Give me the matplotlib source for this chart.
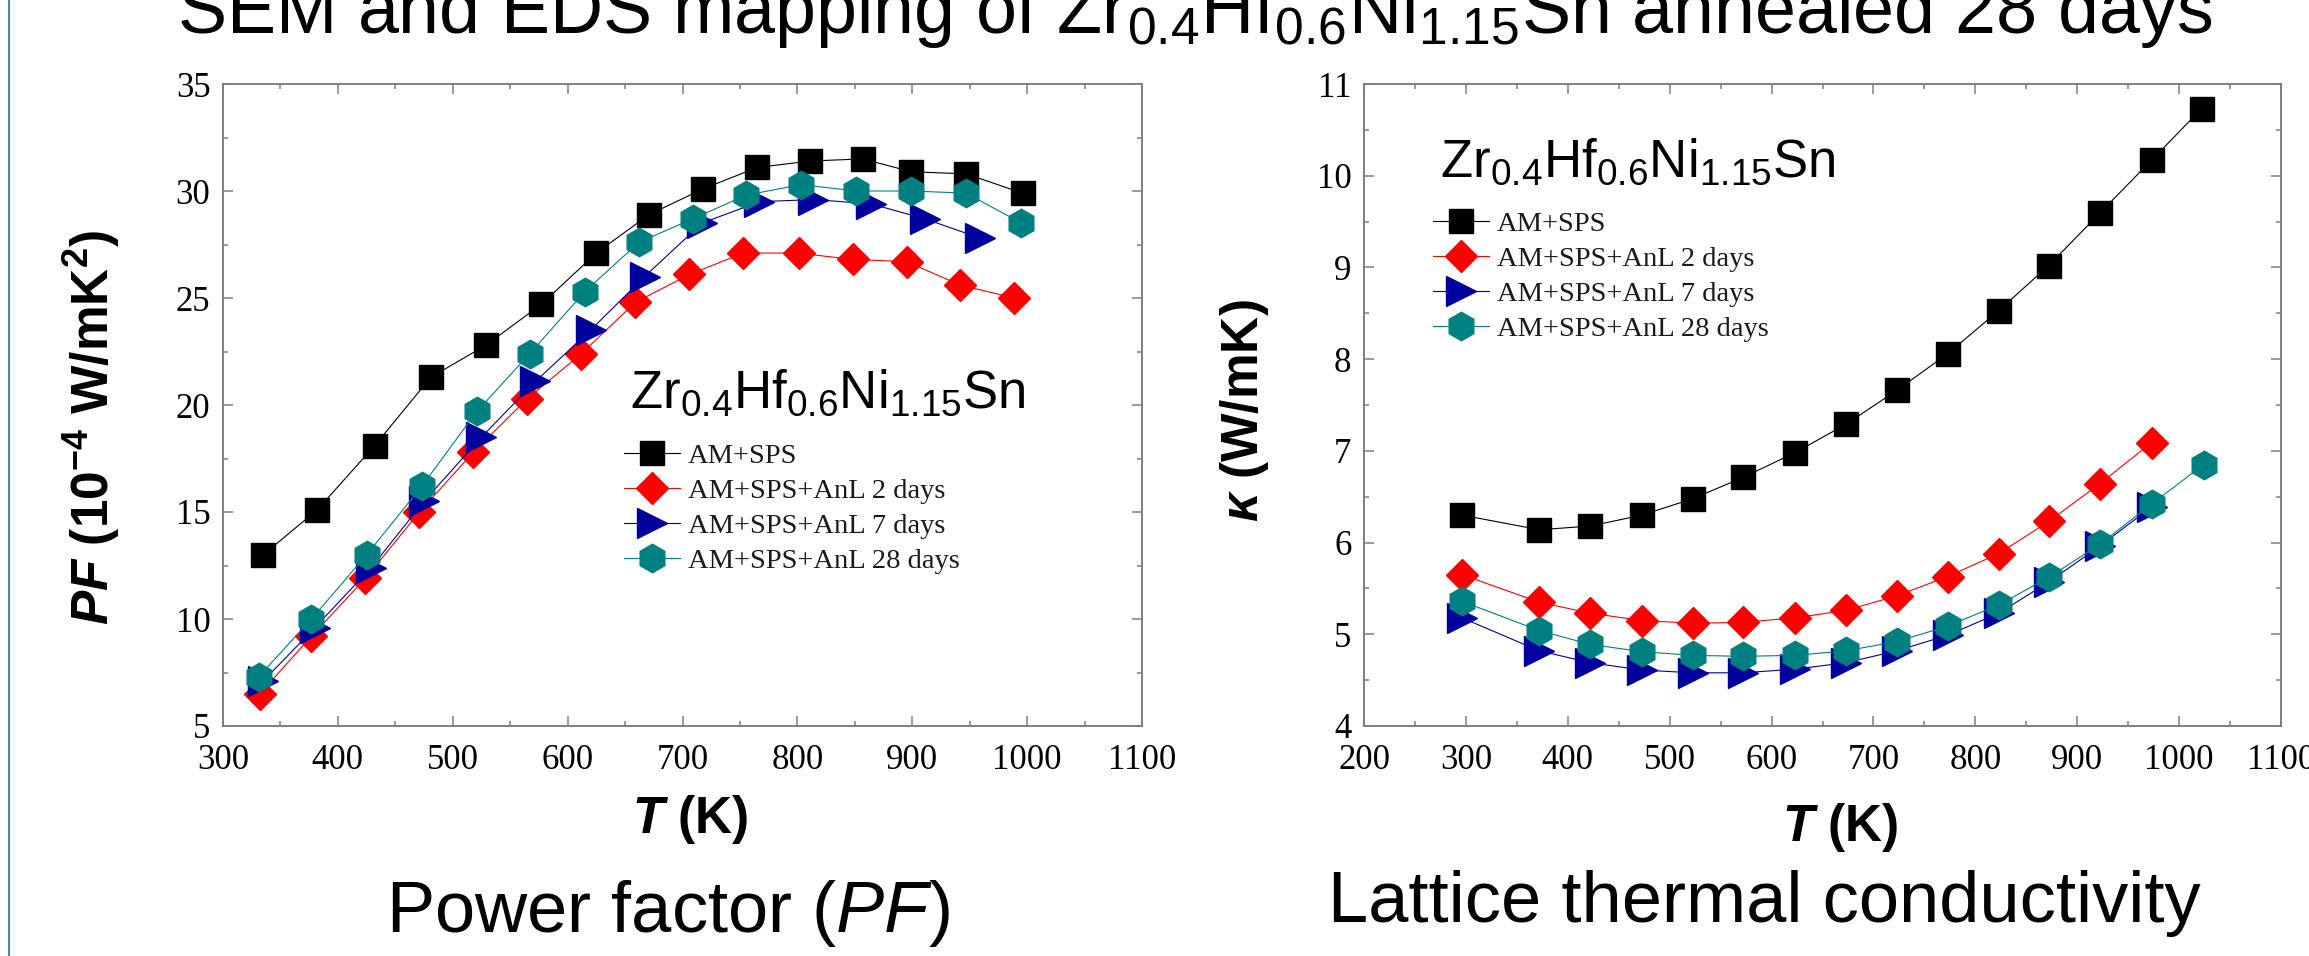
import matplotlib
matplotlib.use("Agg")
import matplotlib.pyplot as plt
from matplotlib.ticker import MultipleLocator

# -----------------------------
# Data
# -----------------------------
series_labels = ["AM+SPS", "AM+SPS+AnL 2 days", "AM+SPS+AnL 7 days", "AM+SPS+AnL 28 days"]

# Power factor (10^-4 W/mK^2) vs T (K)
pf_T_black = [335, 382, 432, 481, 529, 577, 625, 671, 718, 765, 811, 857, 899, 947, 996]
pf_black = [13.0, 15.1, 18.1, 21.3, 22.8, 24.7, 27.1, 28.9, 30.1, 31.1, 31.4, 31.5, 30.9, 30.8, 29.9]
pf_T_red = [332, 377, 424, 471, 518, 565, 612, 659, 706, 753, 801, 848, 895, 942, 989]
pf_red = [6.5, 9.2, 11.9, 15.0, 17.8, 20.3, 22.4, 24.8, 26.1, 27.1, 27.1, 26.8, 26.7, 25.6, 25.0]
pf_T_blue = [335, 380, 429, 475, 525, 572, 620, 667, 717, 767, 814, 864, 911, 959]
pf_blue = [7.1, 9.6, 12.4, 15.5, 18.5, 21.1, 23.5, 26.0, 28.5, 29.5, 29.6, 29.4, 28.7, 27.8]
pf_T_teal = [331, 377, 425, 473, 521, 567, 615, 662, 709, 755, 803, 851, 899, 947, 995]
pf_teal = [7.3, 10.0, 13.0, 16.2, 19.7, 22.4, 25.3, 27.6, 28.7, 29.8, 30.3, 30.0, 30.0, 29.9, 28.5]

# Lattice thermal conductivity (W/mK) vs T (K)
k_T_black = [296, 372, 422, 473, 523, 572, 623, 673, 723, 773, 823, 872, 922, 973, 1022]
k_black = [6.30, 6.14, 6.18, 6.30, 6.48, 6.71, 6.98, 7.29, 7.66, 8.06, 8.53, 9.02, 9.59, 10.17, 10.73]
k_T_red = [296, 372, 422, 473, 523, 572, 623, 673, 723, 773, 823, 872, 922, 973]
k_red = [5.65, 5.35, 5.23, 5.15, 5.12, 5.13, 5.18, 5.26, 5.42, 5.63, 5.88, 6.23, 6.64, 7.09]
k_T_blue = [296, 372, 422, 473, 523, 572, 623, 673, 723, 773, 823, 872, 922, 973]
k_blue = [5.18, 4.82, 4.69, 4.61, 4.58, 4.58, 4.62, 4.69, 4.82, 4.99, 5.23, 5.57, 5.96, 6.39]
k_T_teal = [296, 372, 422, 473, 523, 572, 623, 673, 723, 773, 823, 872, 922, 973, 1024]
k_teal = [5.36, 5.04, 4.89, 4.81, 4.77, 4.76, 4.77, 4.82, 4.92, 5.09, 5.32, 5.62, 5.98, 6.42, 6.85]

# -----------------------------
# Style
# -----------------------------
plt.rcParams["mathtext.fontset"] = "custom"
plt.rcParams["mathtext.rm"] = "Liberation Sans"
plt.rcParams["mathtext.it"] = "Liberation Sans:italic"
plt.rcParams["mathtext.bf"] = "Liberation Sans:bold"
plt.rcParams["mathtext.bfit"] = "Liberation Sans:italic:bold"

sans = "Liberation Sans"
serif = "Liberation Serif"
colors = ["#000000", "#ff0000", "#00009c", "#008080"]
markers = ["s", "D", ">", "h"]
msizes = [17, 16, 21, 20.5]
spine_gray = "#7f7f7f"

W, H = 2309, 956
fig = plt.figure(figsize=(W / 100, H / 100), dpi=100)


def fx(px):
    return px / W


def fy(py):
    return 1 - py / H


def style_axes(ax):
    for sp in ax.spines.values():
        sp.set_color(spine_gray)
        sp.set_linewidth(1.4)
    ax.tick_params(which="both", direction="in", top=True, right=True,
                   color=spine_gray, width=1.1)
    ax.tick_params(which="major", length=7.5)
    ax.tick_params(which="minor", length=3.8)
    ax.tick_params(axis="x", pad=13)
    ax.tick_params(axis="y", pad=9)
    for lab in ax.get_xticklabels() + ax.get_yticklabels():
        lab.set_fontfamily(serif)
        lab.set_fontsize(25)


def draw_series(ax, xs, ys):
    for i in range(4):
        ax.plot(xs[i], ys[i], color=colors[i], marker=markers[i],
                markersize=msizes[i], linewidth=0.8, label=series_labels[i])


# -----------------------------
# Left: power factor
# -----------------------------
ax1 = fig.add_axes([fx(223), fy(726), fx(1142 - 223), (726 - 84) / H])
draw_series(ax1, [pf_T_black, pf_T_red, pf_T_blue, pf_T_teal],
            [pf_black, pf_red, pf_blue, pf_teal])
ax1.set_xlim(300, 1100)
ax1.set_ylim(5, 35)
ax1.xaxis.set_major_locator(MultipleLocator(100))
ax1.xaxis.set_minor_locator(MultipleLocator(50))
ax1.yaxis.set_major_locator(MultipleLocator(5))
ax1.yaxis.set_minor_locator(MultipleLocator(2.5))
style_axes(ax1)
ax1.set_xlabel(r"$\mathbfit{T}$ (K)", fontsize=37, fontweight="bold", family=sans)
ax1.xaxis.set_label_coords((690 - 223) / 919, (726 - 793) / 642)
ax1.set_ylabel(r"$\mathbfit{PF}$ ($\mathbf{10^{-4}}$ W/m$\mathbf{K^{2}}$)",
               fontsize=37, fontweight="bold", family=sans)
ax1.yaxis.set_label_coords((122 - 223) / 919, (726 - 427) / 642)

leg1 = ax1.legend(loc="upper left", bbox_to_anchor=(fx(624), fy(443)),
                  bbox_transform=fig.transFigure, frameon=False,
                  prop={"family": serif, "size": 20.5}, borderpad=0, borderaxespad=0,
                  handlelength=1.95, handletextpad=0.3, labelspacing=0.32)
for t in leg1.get_texts():
    t.set_color("#1a1a1a")

fig.text(fx(630), fy(408), r"Zr$\mathrm{_{0.4}}$Hf$\mathrm{_{0.6}}$Ni$\mathrm{_{1.15}}$Sn",
         fontsize=38, family=sans, ha="left", va="baseline")

# -----------------------------
# Right: lattice thermal conductivity
# -----------------------------
ax2 = fig.add_axes([fx(1364), fy(726), fx(2281 - 1364), (726 - 84) / H])
draw_series(ax2, [k_T_black, k_T_red, k_T_blue, k_T_teal],
            [k_black, k_red, k_blue, k_teal])
ax2.set_xlim(200, 1100)
ax2.set_ylim(4, 11)
ax2.xaxis.set_major_locator(MultipleLocator(100))
ax2.xaxis.set_minor_locator(MultipleLocator(50))
ax2.yaxis.set_major_locator(MultipleLocator(1))
ax2.yaxis.set_minor_locator(MultipleLocator(0.5))
style_axes(ax2)
ax2.set_xlabel(r"$\mathbfit{T}$ (K)", fontsize=37, fontweight="bold", family=sans)
ax2.xaxis.set_label_coords((1840 - 1364) / 917, (726 - 801) / 642)
ax2.set_ylabel(r"$\mathbfit{\kappa}$ (W/mK)", fontsize=37, fontweight="bold", family=sans)
ax2.yaxis.set_label_coords((1271 - 1364) / 917, (726 - 411) / 642)

leg2 = ax2.legend(loc="upper left", bbox_to_anchor=(fx(1433), fy(211)),
                  bbox_transform=fig.transFigure, frameon=False,
                  prop={"family": serif, "size": 20.5}, borderpad=0, borderaxespad=0,
                  handlelength=1.95, handletextpad=0.3, labelspacing=0.32)
for t in leg2.get_texts():
    t.set_color("#1a1a1a")

fig.text(fx(1440), fy(177), r"Zr$\mathrm{_{0.4}}$Hf$\mathrm{_{0.6}}$Ni$\mathrm{_{1.15}}$Sn",
         fontsize=38, family=sans, ha="left", va="baseline")

# -----------------------------
# Slide text
# -----------------------------
fig.text(fx(177), fy(33),
         r"SEM and EDS mapping of Zr$\mathrm{_{0.4}}$Hf$\mathrm{_{0.6}}$Ni$\mathrm{_{1.15}}$Sn annealed 28 days",
         fontsize=53, family=sans, ha="left", va="baseline")
fig.text(fx(668), fy(932), r"Power factor ($\mathit{PF}$)",
         fontsize=52, family=sans, ha="center", va="baseline")
fig.text(fx(1764), fy(922), "Lattice thermal conductivity",
         fontsize=52, family=sans, ha="center", va="baseline")

# blue slide border on the left
fig.add_artist(plt.Line2D([fx(9), fx(9)], [0, 1], transform=fig.transFigure,
                          color="#4f81bd", linewidth=1.5))

fig.savefig("out.png", dpi=100)
plt.close(fig)
